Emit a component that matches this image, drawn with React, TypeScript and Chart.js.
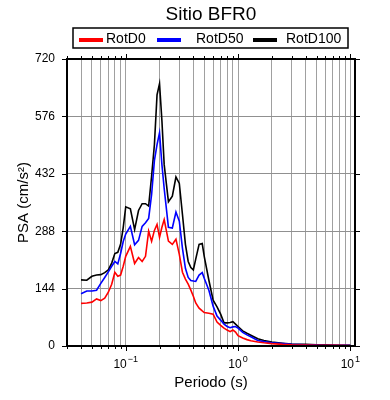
import React, { useEffect, useRef } from 'react';
import { Chart, registerables } from 'chart.js';

Chart.register(...registerables);

const titleText = 'Sitio BFR0';
const xTitle = 'Periodo (s)';
const yTitle = 'PSA (cm/s²)';
const seriesNames = ['RotD0', 'RotD50', 'RotD100'];
const seriesColors = ['#ff0000', '#0000ff', '#000000'];

const periods = [
  0.04, 0.045, 0.05, 0.055, 0.06, 0.065, 0.07, 0.075, 0.08, 0.085, 0.09, 0.095,
  0.1, 0.11, 0.12, 0.13, 0.14, 0.15, 0.16, 0.17, 0.18, 0.19, 0.2, 0.21, 0.22,
  0.24, 0.26, 0.28, 0.3, 0.32, 0.34, 0.36, 0.38, 0.4, 0.42, 0.45, 0.48, 0.5,
  0.55, 0.6, 0.65, 0.7, 0.75, 0.8, 0.85, 0.9, 0.95, 1.0, 1.1, 1.2, 1.3, 1.5,
  1.7, 2.0, 2.5, 3.0, 4.0, 5.0, 6.0, 7.5, 10.0,
];

const rotD0 = [
  107, 108, 110, 118, 114, 120, 135, 155, 185, 175, 178, 200,
  225, 250, 207, 222, 212, 225, 288, 263, 290, 305, 273, 298, 317,
  263, 255, 268, 230, 185, 168, 155, 140, 125, 108, 95, 88, 84,
  82, 80, 60, 52, 45, 40, 36, 40, 35, 26, 20, 16, 13, 10,
  8, 6, 4, 3, 2.5, 2, 1.8, 1.5, 1.2,
];

const rotD50 = [
  131, 138, 138, 140, 157, 172, 186, 200, 212, 206, 232, 262,
  281, 300, 254, 265, 300, 309, 320, 380, 465, 505, 535, 455, 395,
  298, 296, 336, 313, 245, 195, 172, 164, 163, 162, 178, 184, 170,
  140, 100, 75, 65, 55, 49, 46, 48, 49, 45, 34, 28, 23, 14,
  11, 8, 6, 4, 3, 2.5, 2, 2, 1.5,
];

const rotD100 = [
  166, 165, 175, 178, 179, 184, 191, 208, 232, 235, 255, 297,
  349, 344, 292, 340, 357, 357, 351, 426, 505, 630, 658, 565, 455,
  362, 376, 424, 408, 330, 255, 212, 197, 191, 218, 255, 257, 225,
  165, 115, 98, 80, 58, 58, 59, 61, 55, 49, 38, 32, 27, 18,
  14, 10, 7, 5, 4, 3, 3, 2, 2,
];

const yTickValues = [0, 144, 288, 432, 576, 720];
const xTickValues = [
  0.03, 0.04, 0.05, 0.06, 0.07, 0.08, 0.09,
  0.1, 0.2, 0.3, 0.4, 0.5, 0.6, 0.7, 0.8, 0.9,
  1, 2, 3, 4, 5, 6, 7, 8, 9, 10,
];
const xMajorTicks = [0.1, 1, 10];
const xMajorBase = '10';
const xMajorExponents = ['−1', '0', '1'];

const FONT = "'Liberation Sans', Arial, Helvetica, sans-serif";

const framePlugin = {
  id: 'gmtFrame',
  afterDraw(chart: any) {
    const { ctx, chartArea } = chart;
    const { left, right, top, bottom } = chartArea;
    const xs = chart.scales.x;
    const ys = chart.scales.y;
    ctx.save();
    ctx.strokeStyle = '#000';
    ctx.lineWidth = 1;
    // x ticks (bottom and top)
    xTickValues.forEach((v) => {
      const px = Math.round(xs.getPixelForValue(v)) + 0.5;
      const len = xMajorTicks.includes(v) ? 5 : 3;
      ctx.beginPath();
      ctx.moveTo(px, bottom);
      ctx.lineTo(px, bottom + len);
      ctx.moveTo(px, top);
      ctx.lineTo(px, top - len);
      ctx.stroke();
    });
    // y ticks (left and right)
    yTickValues.forEach((v) => {
      const py = Math.round(ys.getPixelForValue(v)) + 0.5;
      ctx.beginPath();
      ctx.moveTo(left, py);
      ctx.lineTo(left - 5, py);
      ctx.moveTo(right, py);
      ctx.lineTo(right + 5, py);
      ctx.stroke();
    });
    // frame
    ctx.lineWidth = 2;
    ctx.strokeRect(left, top, right - left, bottom - top);

    // x major tick labels with superscript exponents
    ctx.fillStyle = '#000';
    ctx.textBaseline = 'alphabetic';
    ctx.textAlign = 'left';
    xMajorTicks.forEach((v, i) => {
      const px = xs.getPixelForValue(v);
      ctx.font = `12px ${FONT}`;
      const wb = ctx.measureText(xMajorBase).width;
      ctx.font = `9px ${FONT}`;
      const we = ctx.measureText(xMajorExponents[i]).width;
      const x0 = px - (wb + we + 1) / 2;
      ctx.font = `12px ${FONT}`;
      ctx.fillText(xMajorBase, x0, bottom + 22);
      ctx.font = `9px ${FONT}`;
      ctx.fillText(xMajorExponents[i], x0 + wb + 1, bottom + 16);
    });

    // title
    const cx = (left + right) / 2;
    ctx.font = `19px ${FONT}`;
    ctx.textAlign = 'center';
    ctx.fillText(titleText, cx, 20);

    // legend box
    const boxL = 73, boxR = 348, boxT = 28, boxB = 48;
    ctx.strokeStyle = '#000';
    ctx.lineWidth = 1.5;
    ctx.strokeRect(boxL, boxT, boxR - boxL, boxB - boxT);
    const sampleStarts = [79, 157, 253];
    const textStarts = [106, 196, 286];
    ctx.font = `14px ${FONT}`;
    ctx.textAlign = 'left';
    ctx.textBaseline = 'middle';
    chart.data.datasets.forEach((ds: any, i: number) => {
      ctx.strokeStyle = ds.borderColor;
      ctx.lineWidth = 4;
      ctx.beginPath();
      ctx.moveTo(sampleStarts[i], 40);
      ctx.lineTo(sampleStarts[i] + 24, 40);
      ctx.stroke();
      ctx.fillStyle = '#000';
      ctx.fillText(ds.label, textStarts[i], 39);
    });
    ctx.restore();
  },
};

export default function App() {
  const ref = useRef<HTMLCanvasElement>(null);
  useEffect(() => {
    if (!ref.current) return;
    const seriesData = [rotD0, rotD50, rotD100];
    const chart = new Chart(ref.current, {
      type: 'line',
      data: {
        datasets: seriesData.map((arr, i) => ({
          label: seriesNames[i],
          data: periods.map((p, j) => ({ x: p, y: arr[j] })),
          borderColor: seriesColors[i],
          backgroundColor: seriesColors[i],
          borderWidth: 1.6,
          pointRadius: 0,
          tension: 0,
          fill: false,
        })),
      },
      options: {
        responsive: false,
        animation: false,
        devicePixelRatio: 1,
        layout: { padding: { top: 59, right: 35, left: 0, bottom: 0 } },
        plugins: {
          legend: { display: false },
          title: { display: false },
          tooltip: { enabled: false },
        },
        scales: {
          x: {
            type: 'logarithmic',
            min: 0.03,
            max: 11,
            afterBuildTicks: (scale: any) => {
              scale.ticks = xTickValues.map((v) => ({ value: v }));
            },
            afterFit: (scale: any) => {
              scale.height = 54;
            },
            border: { display: false },
            grid: { color: '#a0a0a0', lineWidth: 1, drawTicks: false },
            ticks: {
              autoSkip: false,
              maxRotation: 0,
              padding: 9,
              color: '#000',
              font: { family: FONT, size: 12 },
              callback: () => '',
            },
            title: {
              display: true,
              text: xTitle,
              color: '#000',
              font: { family: FONT, size: 15 },
              padding: { top: 0, bottom: 8 },
            },
          },
          y: {
            type: 'linear',
            min: 0,
            max: 720,
            afterBuildTicks: (scale: any) => {
              scale.ticks = yTickValues.map((v) => ({ value: v }));
            },
            afterFit: (scale: any) => {
              scale.width = 67;
            },
            border: { display: false },
            grid: { color: '#909090', lineWidth: 1, drawTicks: false },
            ticks: {
              padding: 12,
              color: '#000',
              font: { family: FONT, size: 12 },
            },
            title: {
              display: true,
              text: yTitle,
              color: '#000',
              font: { family: FONT, size: 15 },
              padding: { top: 15, bottom: 0 },
            },
          },
        },
      },
      plugins: [framePlugin],
    });
    return () => chart.destroy();
  }, []);

  return (
    <div style={{ position: 'fixed', left: 0, top: 0, width: 390, height: 400, background: '#fff' }}>
      <canvas ref={ref} width={390} height={400} style={{ width: 390, height: 400 }} />
    </div>
  );
}
